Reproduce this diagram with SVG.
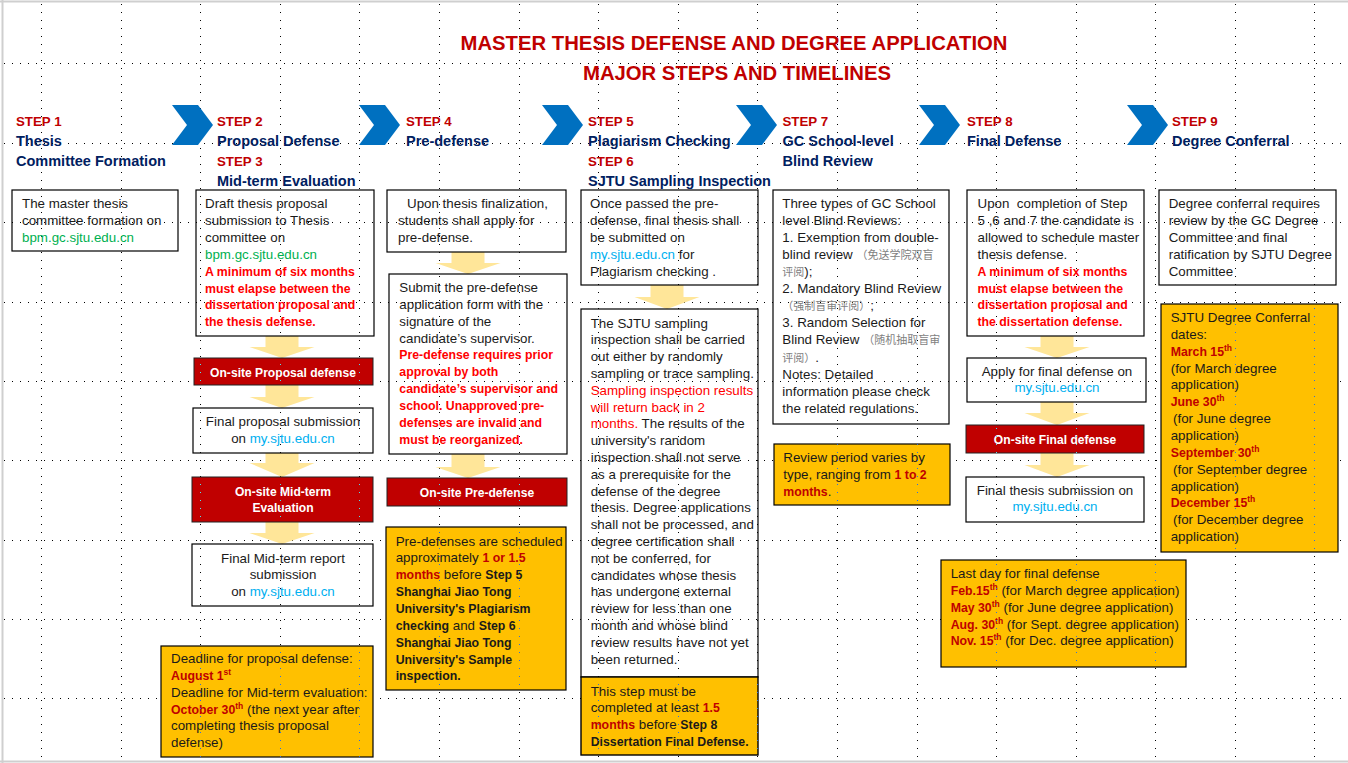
<svg xmlns="http://www.w3.org/2000/svg" xmlns:xlink="http://www.w3.org/1999/xlink" width="1348" height="763" viewBox="0 0 1348 763">
<defs>
<style>
text{font-family:'Liberation Sans',Arial,sans-serif;font-size:13.35px;fill:#1a1a1a}
.b{font-weight:bold;font-size:12.3px}
.h{font-weight:bold;font-size:14.5px;fill:#002060}
.s{font-weight:bold;font-size:13.3px;fill:#C00000}
.ttl{font-weight:bold;font-size:20.3px;fill:#C00000;text-anchor:middle}
.r{fill:#FF0000}
.dr{fill:#C00000}
.g{fill:#00B050}
.lk{fill:#00B0F0}
.cn{font-family:'Noto Sans CJK SC',sans-serif;font-size:11px;fill:#7f7f7f}
.w{fill:#fff;font-weight:bold;font-size:12.1px;text-anchor:middle}
.c{text-anchor:middle}
.sup{font-size:8.5px}
.box{fill:none;stroke:#000;stroke-width:1.2}
.yb{fill:#FFC000;stroke:#000;stroke-width:1.2}
.rb{fill:#C00000;stroke:#222;stroke-width:1}
.arr{fill:#FFE699}
.chev{fill:#0070C0}
</style>
<path id="chev" d="M0,0 H26 L41,20 L26,40 H0 L15,20 Z"/>
<g id="gv" stroke-width="1" stroke-dasharray="1 7">
<line x1="41.5" y1="4" x2="41.5" y2="757"/>
<line x1="121.5" y1="4" x2="121.5" y2="757"/>
<line x1="200.5" y1="4" x2="200.5" y2="757"/>
<line x1="280.5" y1="4" x2="280.5" y2="757"/>
<line x1="359.5" y1="4" x2="359.5" y2="757"/>
<line x1="439.5" y1="4" x2="439.5" y2="757"/>
<line x1="519.5" y1="4" x2="519.5" y2="757"/>
<line x1="598.5" y1="4" x2="598.5" y2="757"/>
<line x1="678.5" y1="4" x2="678.5" y2="757"/>
<line x1="757.5" y1="4" x2="757.5" y2="757"/>
<line x1="837.5" y1="4" x2="837.5" y2="757"/>
<line x1="917.5" y1="4" x2="917.5" y2="757"/>
<line x1="996.5" y1="4" x2="996.5" y2="757"/>
<line x1="1076.5" y1="4" x2="1076.5" y2="757"/>
<line x1="1155.5" y1="4" x2="1155.5" y2="757"/>
<line x1="1235.5" y1="4" x2="1235.5" y2="757"/>
<line x1="1314.5" y1="4" x2="1314.5" y2="757"/>
</g>
<g id="gh" stroke-width="1" stroke-dasharray="1 7">
<line x1="4" y1="63.5" x2="1348" y2="63.5"/>
<line x1="4" y1="143.5" x2="1348" y2="143.5"/>
<line x1="4" y1="222.5" x2="1348" y2="222.5"/>
<line x1="4" y1="302.5" x2="1348" y2="302.5"/>
<line x1="4" y1="381.5" x2="1348" y2="381.5"/>
<line x1="4" y1="460.5" x2="1348" y2="460.5"/>
<line x1="4" y1="540.5" x2="1348" y2="540.5"/>
<line x1="4" y1="619.5" x2="1348" y2="619.5"/>
<line x1="4" y1="698.5" x2="1348" y2="698.5"/>
</g>
<clipPath id="yc">
<rect x="161" y="646" width="212" height="111"/>
<rect x="386" y="527" width="180" height="163"/>
<rect x="581" y="677" width="177" height="78"/>
<rect x="774" y="444" width="176" height="61"/>
<rect x="941" y="560" width="245" height="107"/>
<rect x="1161" y="304" width="177" height="248"/>
</clipPath>
<clipPath id="rc">
<rect x="194" y="358" width="179" height="27"/>
<rect x="192" y="477" width="181" height="45"/>
<rect x="387" y="478" width="180" height="28"/>
<rect x="966" y="425" width="178" height="28"/>
</clipPath>
</defs>

<rect x="0" y="0" width="1348" height="763" fill="#fff"/>
<g id="frame" fill="none" stroke="#cfcfcf" stroke-width="2">
<line x1="0" y1="1.5" x2="1348" y2="1.5"/>
<line x1="2.5" y1="0" x2="2.5" y2="763"/>
<line x1="0" y1="761.5" x2="1348" y2="761.5"/>
</g>
<g id="grid">
<use xlink:href="#gv" stroke="#000"/>
<use xlink:href="#gh" stroke="#000"/>
</g>

<g id="title">
<text class="ttl" x="734" y="50">MASTER THESIS DEFENSE AND DEGREE APPLICATION</text>
<text class="ttl" x="737" y="80">MAJOR STEPS AND TIMELINES</text>
</g>

<g id="chevrons">
<use xlink:href="#chev" class="chev" x="172" y="105"/>
<use xlink:href="#chev" class="chev" x="359" y="105"/>
<use xlink:href="#chev" class="chev" x="542" y="105"/>
<use xlink:href="#chev" class="chev" x="736" y="105"/>
<use xlink:href="#chev" class="chev" x="919" y="105"/>
<use xlink:href="#chev" class="chev" x="1127" y="105"/>
</g>

<g id="step1-head">
<text class="s" x="16" y="126">STEP 1</text>
<text class="h" x="16" y="146">Thesis</text>
<text class="h" x="16" y="166">Committee Formation</text>
</g>
<g id="step2-3-head">
<text class="s" x="217" y="126">STEP 2</text>
<text class="h" x="217" y="146">Proposal Defense</text>
<text class="s" x="217" y="166">STEP 3</text>
<text class="h" x="217" y="186">Mid-term Evaluation</text>
</g>
<g id="step4-head">
<text class="s" x="406" y="126">STEP 4</text>
<text class="h" x="406" y="146">Pre-defense</text>
</g>
<g id="step5-6-head">
<text class="s" x="588" y="126">STEP 5</text>
<text class="h" x="588" y="146">Plagiarism Checking</text>
<text class="s" x="588" y="166">STEP 6</text>
<text class="h" x="588" y="186">SJTU Sampling Inspection</text>
</g>
<g id="step7-head">
<text class="s" x="782.5" y="126">STEP 7</text>
<text class="h" x="782.5" y="146">GC School-level</text>
<text class="h" x="782.5" y="166">Blind Review</text>
</g>
<g id="step8-head">
<text class="s" x="967" y="126">STEP 8</text>
<text class="h" x="967" y="146">Final Defense</text>
</g>
<g id="step9-head">
<text class="s" x="1172" y="126">STEP 9</text>
<text class="h" x="1172" y="146">Degree Conferral</text>
</g>

<g id="connectors" class="arr">
<path d="M265.5,336 H298.5 V347 H314.5 L282,358 L249.5,347 H265.5 Z"/>
<path d="M265.5,385 H298.5 V397 H314.5 L282,408 L249.5,397 H265.5 Z"/>
<path d="M265.5,453 H298.5 V463 H314.5 L282,477 L249.5,463 H265.5 Z"/>
<path d="M265.5,522 H298.5 V533 H314.5 L282,544 L249.5,533 H265.5 Z"/>
<path d="M451.5,252 H484.5 V263 H500.5 L468,274 L435.5,263 H451.5 Z"/>
<path d="M451.5,454 H484.5 V467 H500.5 L468,478 L435.5,467 H451.5 Z"/>
<path d="M650.5,285 H683.5 V297 H699.5 L667,309 L634.5,297 H650.5 Z"/>
<path d="M1040.5,336 H1073.5 V347 H1089.5 L1057,358 L1024.5,347 H1040.5 Z"/>
<path d="M1040.5,402 H1073.5 V413 H1089.5 L1057,425 L1024.5,413 H1040.5 Z"/>
<path d="M1040.5,453 H1073.5 V465 H1089.5 L1057,477 L1024.5,465 H1040.5 Z"/>
</g>

<g id="n1">
<rect class="box" x="12" y="190" width="166" height="61"/>
<text x="22" y="208">The master thesis</text>
<text x="22" y="225">committee formation on</text>
<text x="22" y="242" class="g">bpm.gc.sjtu.edu.cn</text>
</g>

<g id="n2">
<rect class="box" x="196" y="190" width="178" height="146"/>
<text x="205" y="208">Draft thesis proposal</text>
<text x="205" y="225">submission to Thesis</text>
<text x="205" y="242">committee on</text>
<text x="205" y="259" class="g">bpm.gc.sjtu.edu.cn</text>
<text x="205" y="275.8" class="b r">A minimum of six months</text>
<text x="205" y="292.6" class="b r">must elapse between the</text>
<text x="205" y="309.4" class="b r">dissertation proposal and</text>
<text x="205" y="326.2" class="b r">the thesis defense.</text>
</g>

<g id="n2a">
<rect class="rb" x="194" y="358" width="179" height="27"/>
<text class="w" x="283" y="376.5">On-site Proposal defense</text>
</g>

<g id="n2b">
<rect class="box" x="193" y="408" width="180" height="45"/>
<text class="c" x="283" y="426">Final proposal submission</text>
<text class="c" x="283" y="443">on <tspan class="lk">my.sjtu.edu.cn</tspan></text>
</g>

<g id="n3a">
<rect class="rb" x="192" y="477" width="181" height="45"/>
<text class="w" x="283" y="495.5">On-site Mid-term</text>
<text class="w" x="283" y="512">Evaluation</text>
</g>

<g id="n3b">
<rect class="box" x="192" y="544" width="181" height="62"/>
<text class="c" x="283" y="562.5">Final Mid-term report</text>
<text class="c" x="283" y="579">submission</text>
<text class="c" x="283" y="596">on <tspan class="lk">my.sjtu.edu.cn</tspan></text>
</g>

<g id="n3c">
<rect class="yb" x="161" y="646" width="212" height="111"/>
<text x="171" y="663">Deadline for proposal defense:</text>
<text x="171" y="679.9"><tspan class="b dr">August 1</tspan><tspan class="b dr sup" dy="-5">st</tspan></text>
<text x="171" y="696.7">Deadline for Mid-term evaluation:</text>
<text x="171" y="713.6"><tspan class="b dr">October 30</tspan><tspan class="b dr sup" dy="-5">th</tspan><tspan dy="5"> (the next year after</tspan></text>
<text x="171" y="730.4">completing thesis proposal</text>
<text x="171" y="747.3">defense)</text>
</g>

<g id="n4">
<rect class="box" x="387" y="190" width="179" height="62"/>
<text x="407" y="208">Upon thesis finalization,</text>
<text x="398" y="225">students shall apply for</text>
<text x="398" y="242">pre-defense.</text>
</g>

<g id="n4a">
<rect class="box" x="389" y="274" width="178" height="180"/>
<text x="399.3" y="292">Submit the pre-defense</text>
<text x="399.3" y="308.9">application form with the</text>
<text x="399.3" y="325.7">signature of the</text>
<text x="399.3" y="342.6">candidate’s supervisor.</text>
<text x="399.3" y="359.4" class="b r">Pre-defense requires prior</text>
<text x="399.3" y="376.3" class="b r">approval by both</text>
<text x="399.3" y="393.1" class="b r">candidate’s supervisor and</text>
<text x="399.3" y="410" class="b r">school. Unapproved pre-</text>
<text x="399.3" y="426.8" class="b r">defenses are invalid and</text>
<text x="399.3" y="443.7" class="b r">must be reorganized.</text>
</g>

<g id="n4b">
<rect class="rb" x="387" y="478" width="180" height="28"/>
<text class="w" x="477" y="496.5">On-site Pre-defense</text>
</g>

<g id="n4c">
<rect class="yb" x="386" y="527" width="180" height="163"/>
<text x="395.7" y="545.5">Pre-defenses are scheduled</text>
<text x="395.7" y="562.4">approximately <tspan class="b dr">1 or 1.5</tspan></text>
<text x="395.7" y="579.2"><tspan class="b dr">months</tspan> before <tspan class="b">Step 5</tspan></text>
<text x="395.7" y="596.1" class="b">Shanghai Jiao Tong</text>
<text x="395.7" y="612.9" class="b">University's Plagiarism</text>
<text x="395.7" y="629.8"><tspan class="b">checking</tspan> and <tspan class="b">Step 6</tspan></text>
<text x="395.7" y="646.6" class="b">Shanghai Jiao Tong</text>
<text x="395.7" y="663.5" class="b">University's Sample</text>
<text x="395.7" y="680.3" class="b">inspection.</text>
</g>

<g id="n5">
<rect class="box" x="581" y="190" width="177" height="95"/>
<text x="590" y="208">Once passed the pre-</text>
<text x="590" y="225">defense, final thesis shall</text>
<text x="590" y="242">be submitted on</text>
<text x="590" y="259"><tspan class="lk">my.sjtu.edu.cn</tspan> for</text>
<text x="590" y="275.8">Plagiarism checking .</text>
</g>

<g id="n6">
<rect class="box" x="581" y="309" width="177" height="368"/>
<text x="590.7" y="327.5">The SJTU sampling</text>
<text x="590.7" y="344.3">inspection shall be carried</text>
<text x="590.7" y="361.1">out either by randomly</text>
<text x="590.7" y="377.9">sampling or trace sampling.</text>
<text x="590.7" y="394.7" class="r">Sampling inspection results</text>
<text x="590.7" y="411.5" class="r">will return back in 2</text>
<text x="590.7" y="428.3"><tspan class="r">months.</tspan> The results of the</text>
<text x="590.7" y="445.1">university's random</text>
<text x="590.7" y="461.9">inspection shall not serve</text>
<text x="590.7" y="478.7">as a prerequisite for the</text>
<text x="590.7" y="495.5">defense of the degree</text>
<text x="590.7" y="512.3">thesis. Degree applications</text>
<text x="590.7" y="529.1">shall not be processed, and</text>
<text x="590.7" y="545.9">degree certification shall</text>
<text x="590.7" y="562.7">not be conferred, for</text>
<text x="590.7" y="579.5">candidates whose thesis</text>
<text x="590.7" y="596.3">has undergone external</text>
<text x="590.7" y="613.1">review for less than one</text>
<text x="590.7" y="629.9">month and whose blind</text>
<text x="590.7" y="646.7">review results have not yet</text>
<text x="590.7" y="663.5">been returned.</text>
</g>

<g id="n6c">
<rect class="yb" x="581" y="677" width="177" height="78" style="stroke-width:1.4"/>
<text x="590.7" y="695.5">This step must be</text>
<text x="590.7" y="712.4">completed at least <tspan class="b dr">1.5</tspan></text>
<text x="590.7" y="729.2"><tspan class="b dr">months</tspan> before <tspan class="b">Step 8</tspan></text>
<text x="590.7" y="746" class="b">Dissertation Final Defense.</text>
</g>

<g id="n7">
<rect class="box" x="773" y="190" width="176" height="234"/>
<text x="782.3" y="208">Three types of GC School</text>
<text x="782.3" y="225">level Blind Reviews:</text>
<text x="782.3" y="242.1">1. Exemption from double-</text>
<text x="782.3" y="259.2">blind review <tspan class="cn">（免送学院双盲</tspan></text>
<text x="782.3" y="276.2"><tspan class="cn">评阅</tspan>);</text>
<text x="782.3" y="293.3">2. Mandatory Blind Review</text>
<text x="782.3" y="310.3"><tspan class="cn">（强制盲审评阅）</tspan>;</text>
<text x="782.3" y="327.4">3. Random Selection for</text>
<text x="782.3" y="344.4">Blind Review <tspan class="cn">（随机抽取盲审</tspan></text>
<text x="782.3" y="361.5"><tspan class="cn">评阅）</tspan>.</text>
<text x="782.3" y="378.5">Notes: Detailed</text>
<text x="782.3" y="395.6">information please check</text>
<text x="782.3" y="412.6">the related regulations.</text>
</g>

<g id="n7c">
<rect class="yb" x="774" y="444" width="176" height="61"/>
<text x="783.3" y="462">Review period varies by</text>
<text x="783.3" y="478.9">type, ranging from <tspan class="b dr">1 to 2</tspan></text>
<text x="783.3" y="495.7"><tspan class="b dr">months</tspan>.</text>
</g>

<g id="n8">
<rect class="box" x="967" y="190" width="177" height="146"/>
<text x="977.5" y="208">Upon&#160; completion of Step</text>
<text x="977.5" y="225">5 ,6 and 7 the candidate is</text>
<text x="977.5" y="242">allowed to schedule master</text>
<text x="977.5" y="259">thesis defense.</text>
<text x="977.5" y="275.8" class="b r">A minimum of six months</text>
<text x="977.5" y="292.6" class="b r">must elapse between the</text>
<text x="977.5" y="309.4" class="b r">dissertation proposal and</text>
<text x="977.5" y="326.2" class="b r">the dissertation defense.</text>
</g>

<g id="n8a">
<rect class="box" x="967" y="358" width="179" height="44"/>
<text class="c" x="1057" y="375.5">Apply for final defense on</text>
<text class="c lk" x="1057" y="392">my.sjtu.edu.cn</text>
</g>

<g id="n8b">
<rect class="rb" x="966" y="425" width="178" height="28"/>
<text class="w" x="1055" y="443.5">On-site Final defense</text>
</g>

<g id="n8c">
<rect class="box" x="966" y="477" width="178" height="45"/>
<text class="c" x="1055" y="494.5">Final thesis submission on</text>
<text class="c lk" x="1055" y="511">my.sjtu.edu.cn</text>
</g>

<g id="n8d">
<rect class="yb" x="941" y="560" width="245" height="107"/>
<text x="950.7" y="578">Last day for final defense</text>
<text x="950.7" y="594.9"><tspan class="b dr">Feb.15</tspan><tspan class="b dr sup" dy="-5">th</tspan><tspan dy="5"> (for March degree application)</tspan></text>
<text x="950.7" y="611.7"><tspan class="b dr">May 30</tspan><tspan class="b dr sup" dy="-5">th</tspan><tspan dy="5"> (for June degree application)</tspan></text>
<text x="950.7" y="628.6"><tspan class="b dr">Aug. 30</tspan><tspan class="b dr sup" dy="-5">th</tspan><tspan dy="5"> (for Sept. degree application)</tspan></text>
<text x="950.7" y="645.4"><tspan class="b dr">Nov. 15</tspan><tspan class="b dr sup" dy="-5">th</tspan><tspan dy="5"> (for Dec. degree application)</tspan></text>
</g>

<g id="n9">
<rect class="box" x="1159" y="190" width="177" height="95"/>
<text x="1168.7" y="208">Degree conferral requires</text>
<text x="1168.7" y="225">review by the GC Degree</text>
<text x="1168.7" y="242">Committee and final</text>
<text x="1168.7" y="259">ratification by SJTU Degree</text>
<text x="1168.7" y="275.8">Committee</text>
</g>

<g id="n9c">
<rect class="yb" x="1161" y="304" width="177" height="248"/>
<text x="1170.7" y="322">SJTU Degree Conferral</text>
<text x="1170.7" y="338.9">dates:</text>
<text x="1170.7" y="355.7"><tspan class="b dr">March 15</tspan><tspan class="b dr sup" dy="-5">th</tspan></text>
<text x="1170.7" y="372.6">(for March degree</text>
<text x="1170.7" y="389.4">application)</text>
<text x="1170.7" y="406.3"><tspan class="b dr">June 30</tspan><tspan class="b dr sup" dy="-5">th</tspan></text>
<text x="1173" y="423.1">(for June degree</text>
<text x="1170.7" y="440">application)</text>
<text x="1170.7" y="456.8"><tspan class="b dr">September 30</tspan><tspan class="b dr sup" dy="-5">th</tspan></text>
<text x="1173" y="473.7">(for September degree</text>
<text x="1170.7" y="490.5">application)</text>
<text x="1170.7" y="507.4"><tspan class="b dr">December 15</tspan><tspan class="b dr sup" dy="-5">th</tspan></text>
<text x="1173" y="524.2">(for December degree</text>
<text x="1170.7" y="541">application)</text>
</g>

<g id="grid-overlay">
<use xlink:href="#gv" stroke="#2f6fe0" clip-path="url(#yc)"/>
<use xlink:href="#gv" stroke="#4fe0f0" clip-path="url(#rc)"/>
</g>
</svg>
